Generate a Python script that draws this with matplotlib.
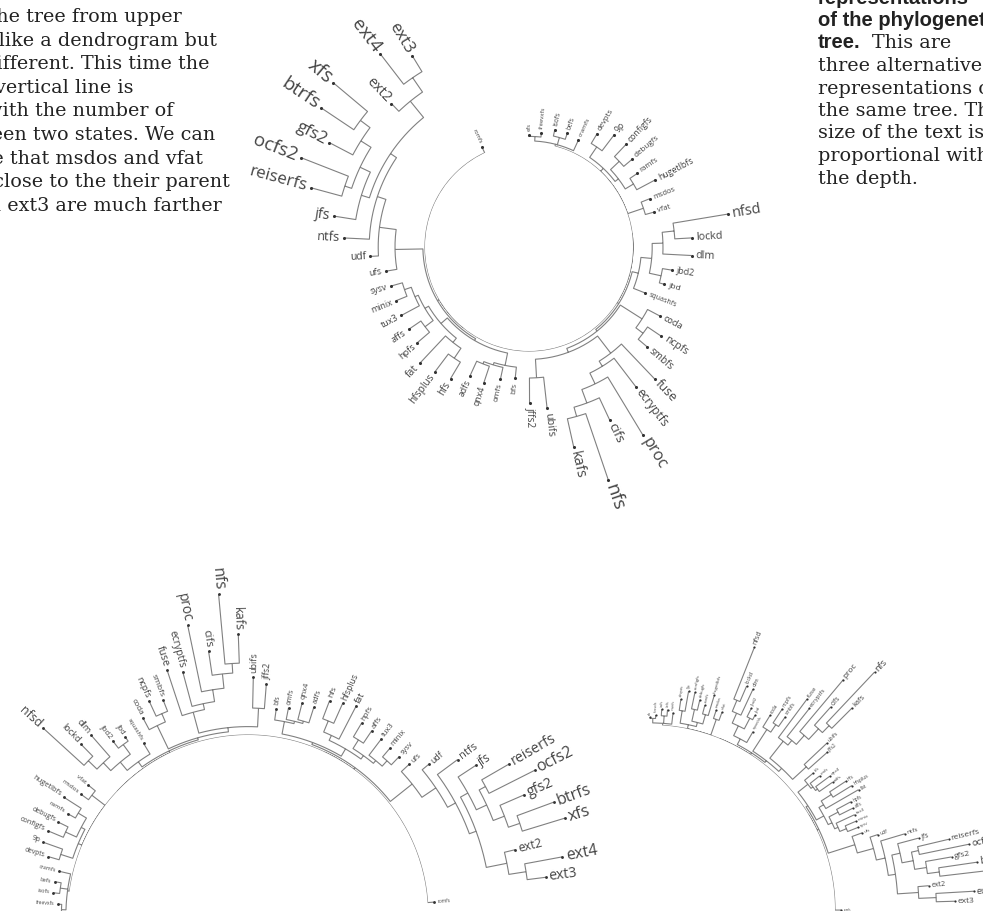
import numpy as np
import matplotlib
matplotlib.use("Agg")
import matplotlib.pyplot as plt

W, H = 983, 911

# leaves in clockwise order and their depth (number of changes from the root)
LEAVES = ["efs", "freevxfs", "isofs", "befs", "cramfs", "devpts", "9p", "configfs",
          "debugfs", "ramfs", "hugetlbfs", "msdos", "vfat", "nfsd", "lockd", "dlm",
          "jbd2", "jbd", "squashfs", "coda", "ncpfs", "smbfs", "fuse", "ecryptfs",
          "proc", "cifs", "nfs", "kafs", "ubifs", "jffs2", "bfs", "omfs", "qnx4",
          "adfs", "hfs", "hfsplus", "fat", "hpfs", "affs", "tux3", "minix", "sysv",
          "ufs", "udf", "ntfs", "jfs", "reiserfs", "ocfs2", "gfs2", "btrfs", "xfs",
          "ext2", "ext4", "ext3", "romfs"]
DEPTHS = [1.3, 1.7, 2.7, 2.7, 2.3, 4.7, 6.2, 6.2,
          5.2, 4.5, 6.5, 4.3, 4.3, 16.3, 9.8, 9.8,
          6.8, 6.0, 3.5, 7.3, 9.3, 8.5, 13.0, 12.0,
          19.3, 14.5, 23.7, 16.8, 9.7, 8.7, 4.7, 5.2, 6.5,
          6.3, 8.2, 8.7, 9.3, 7.2, 7.0, 6.8, 6.5, 6.5,
          6.8, 9.2, 13.5, 15.5, 20.3, 23.5, 20.2, 24.3, 25.3,
          15.8, 23.3, 20.0, 1.0]

# internal nodes: (depth, child, child, ...)
T = (0.0,
     (0.35, (1.1, "efs", "freevxfs"), (1.6, "isofs", "befs"), "cramfs"),
     (0.7, (2.8, "devpts", "9p"),
      (1.4, (3.4, "configfs", "debugfs"), (3.0, "ramfs", "hugetlbfs"))),
     (2.8, "msdos", "vfat"))
N = (1.4, (3.2, (5.0, (7.0, "nfsd", "lockd"), "dlm"), (5.2, "jbd2", "jbd")), "squashfs")
C = (0.7, (5.0, "coda", (6.5, "ncpfs", "smbfs")),
     (1.4, (5.0, "fuse", (6.0, "ecryptfs", (8.0, "proc", (10.4, "cifs", (12.0, "nfs", "kafs"))))),
      (4.5, "ubifs", "jffs2")))
H1 = (2.8, "bfs", (3.2, "omfs", (3.6, "qnx4", "adfs")))
H2 = (2.1, (3.0, (5.0, "hfs", "hfsplus"), "fat"),
      (2.8, (4.5, "hpfs", "affs"), (3.4, "tux3", (4.6, "minix", "sysv"))))
J = (9.3, "ntfs",
     (10.5, (11.9, "jfs", (13.8, (15.0, "reiserfs", "ocfs2"),
                           (15.8, "gfs2", (17.8, "btrfs", "xfs")))),
      (14.0, "ext2", (16.9, "ext4", "ext3"))))
RIGHT = (0.0, T, (0.35, N, C))
LEFT = (0.35, (0.7, H1, H2), (5.0, "ufs", (7.8, "udf", J)))
ROOT = (0.0, RIGHT, LEFT, "romfs")

LEFT_TEXT = ["This is the tree from upper", "figure drawn like a dendrogram but",
             "slightly different. This time the", "length of the vertical line is",
             "proportional with the number of", "changes between two states. We can",
             "easily see that msdos and vfat", "are very close to the their parent",
             "while ext4 and ext3 are much farther"]
RIGHT_TEXT = ["three alternatives", "representations of", "the same tree. The",
              "size of the text is", "proportional with", "the depth."]


def collect(node, links):
    if isinstance(node, str):
        i = LEAVES.index(node)
        return float(i), DEPTHS[i]
    d = node[0]
    kids = [collect(c, links) for c in node[1:]]
    a = np.mean([k[0] for k in kids])
    for ka, kd in kids:
        links.append((a, d, ka, kd))
    return a, d


LINKS = []
collect(ROOT, LINKS)

fig = plt.figure(figsize=(W / 100, H / 100), dpi=100)

# page text around the figures
page = fig.add_axes([0, 0, 1, 1])
page.set_xlim(0, W)
page.set_ylim(H, 0)
page.set_axis_off()
left_ends = [182, 217, 210, 133, 173, 215, 203, 230, 222]
for k, (line, xe) in enumerate(zip(LEFT_TEXT, left_ends)):
    page.text(xe, 17 + k * 23.6, line, ha="right", va="center",
              family="DejaVu Serif", fontsize=13.8, color="#222222")
bold_kw = dict(ha="left", va="center", family="Liberation Sans",
               fontweight="bold", fontsize=14.5, color="#222222")
page.text(818, -2, "representations", **bold_kw)
page.text(818, 20, "of the phylogenetic", **bold_kw)
page.text(818, 43, "tree.", **bold_kw)
page.text(872, 43, "This are", ha="left", va="center",
          family="DejaVu Serif", fontsize=13.8, color="#222222")
for k, line in enumerate(RIGHT_TEXT):
    page.text(818, 66 + k * 22.5, line, ha="left", va="center",
              family="DejaVu Serif", fontsize=13.8, color="#222222")


def draw_tree(cx, cy, r0, scale, start, step, fscale, rmax=30):
    half = r0 + scale * rmax
    ax = fig.add_axes([(cx - half) / W, (H - cy - half) / H, 2 * half / W, 2 * half / H],
                      projection="polar")
    ax.set_theta_zero_location("E")
    ax.set_theta_direction(-1)
    xs, ys = [], []
    for a, d, ka, kd in LINKS:
        t0 = np.radians(start + a * step)
        t1 = np.radians(start + ka * step)
        n = max(2, int(abs(ka - a) * step) + 2)
        tt = np.linspace(t0, t1, n)
        xs += list(tt) + [t1, np.nan]
        ys += [d] * n + [kd, np.nan]
    ax.plot(xs, ys, color="#808080", lw=0.8, solid_capstyle="butt")
    th = np.radians(start + np.arange(len(LEAVES)) * step)
    ax.scatter(th, DEPTHS, s=5 * fscale, color="#333333", zorder=3, linewidths=0)
    for i, name in enumerate(LEAVES):
        deg = start + i * step
        phi = (-deg) % 360
        if 90 < phi < 270:
            rot, ha = phi - 180, "right"
        else:
            rot, ha = (phi if phi <= 90 else phi - 360), "left"
        ax.text(np.radians(deg), DEPTHS[i] + 0.7 * max(fscale, 0.6), name,
                rotation=rot, ha=ha, va="center", rotation_mode="anchor",
                family="Open Sans", color="#444444",
                fontsize=fscale * (3.6 + 0.42 * DEPTHS[i]))
    ax.set_ylim(0, rmax)
    ax.set_rorigin(-r0 / scale)
    ax.set_axis_off()
    return ax


draw_tree(529, 247, 104, 6.0, 270, 6.2, 1.0)
draw_tree(248, 915, 180, 6.0, 180, 3.26, 0.85)
draw_tree(650, 910, 185, 6.0, 270, 1.667, 0.5)

fig.savefig("out.png", dpi=100)
